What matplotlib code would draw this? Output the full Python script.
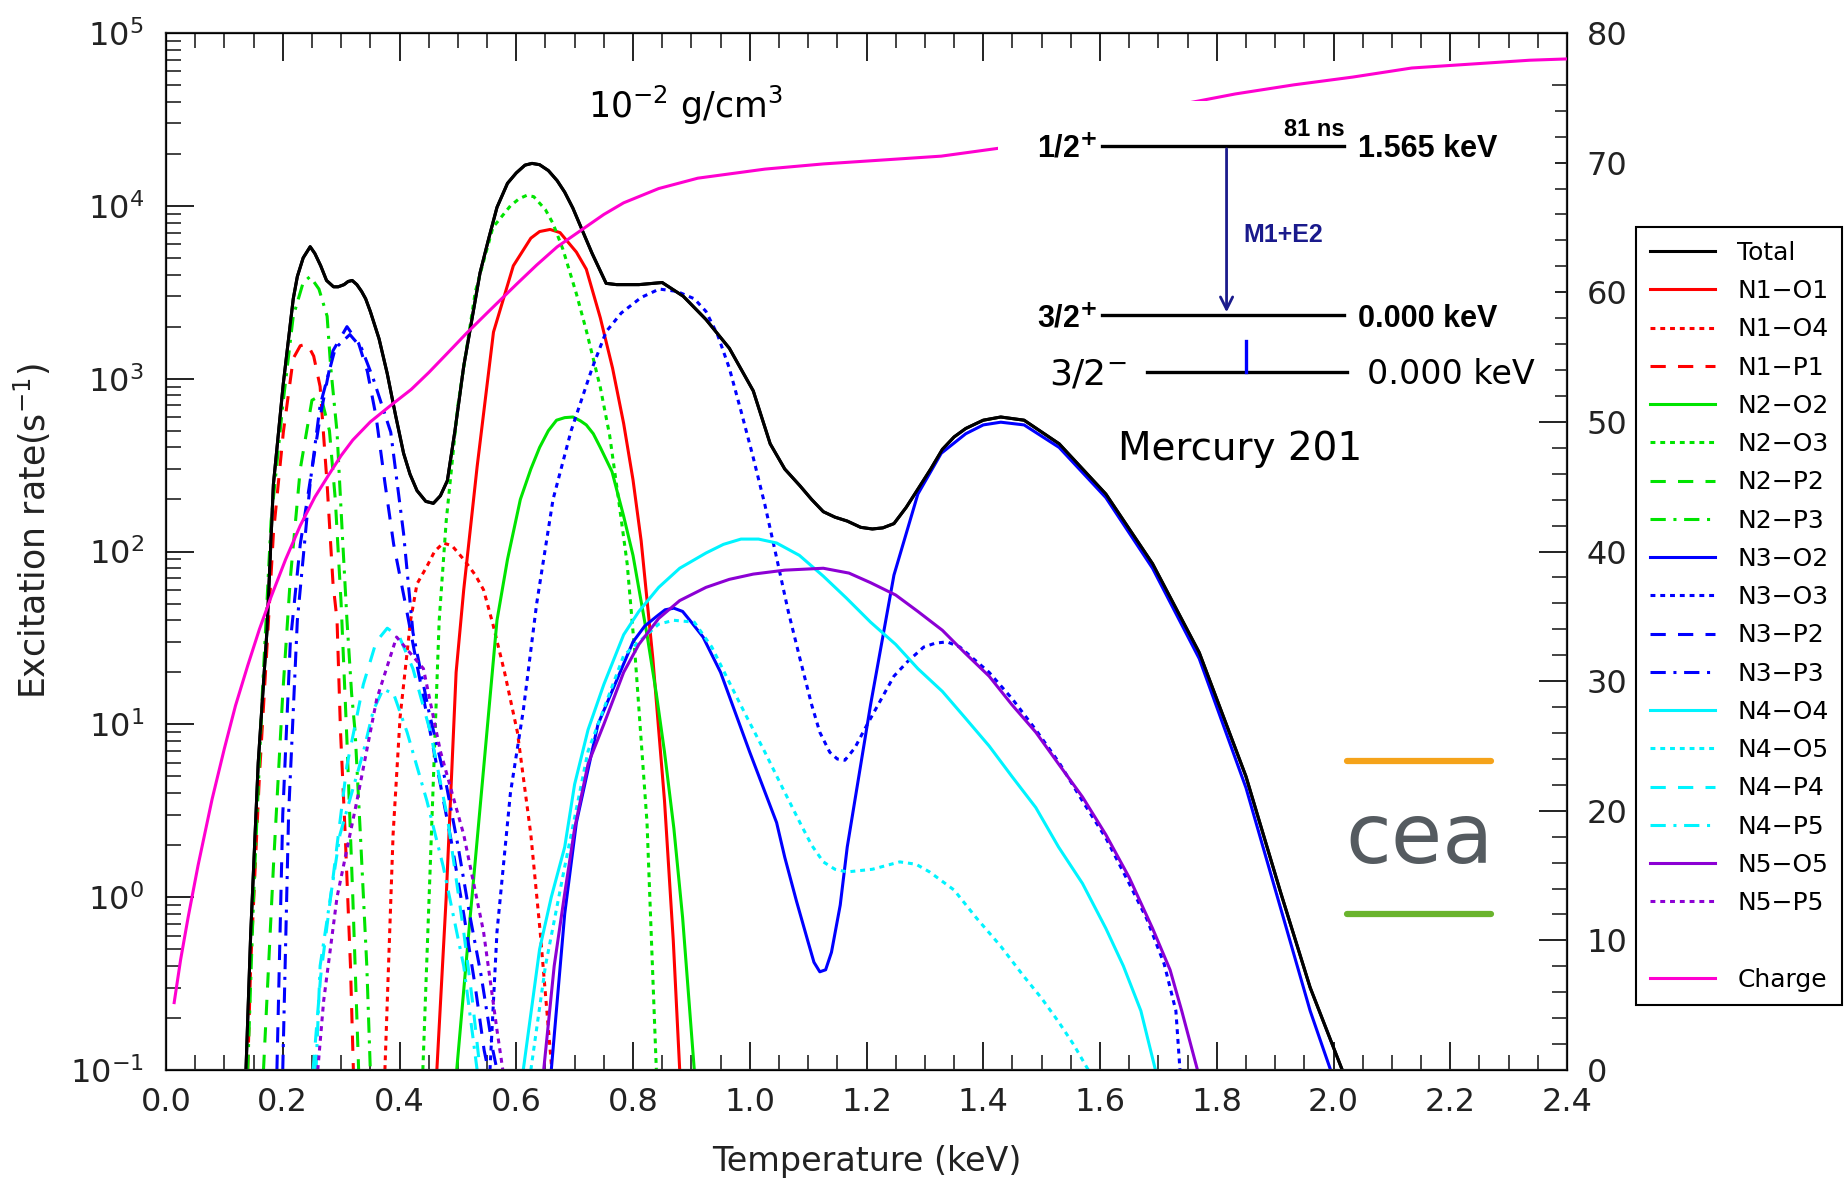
import matplotlib
matplotlib.use("Agg")
import matplotlib.pyplot as plt
from matplotlib.lines import Line2D
from matplotlib.patches import Rectangle
from matplotlib.ticker import MultipleLocator, LogLocator, FormatStrFormatter, NullFormatter

# ---- data (T in keV, rates in s^-1) ----
total_x = [0.137, 0.145, 0.158, 0.173, 0.184, 0.201, 0.218, 0.225, 0.235, 0.247, 0.255, 0.265,
           0.275, 0.287, 0.295, 0.305, 0.312, 0.319, 0.327, 0.335, 0.342, 0.35, 0.365, 0.379,
           0.393, 0.407, 0.418, 0.43, 0.445, 0.458, 0.47, 0.482, 0.495, 0.51, 0.525, 0.538,
           0.553, 0.567, 0.585, 0.6, 0.615, 0.627, 0.64, 0.655, 0.67, 0.683, 0.697, 0.711,
           0.73, 0.754, 0.772, 0.81, 0.85, 0.886, 0.925, 0.965, 1.006, 1.035, 1.06, 1.086,
           1.106, 1.126, 1.146, 1.167, 1.19, 1.21, 1.228, 1.247, 1.268, 1.29, 1.31, 1.33,
           1.35, 1.37, 1.4, 1.43, 1.47, 1.53, 1.61, 1.69, 1.77, 1.85, 1.91, 1.96, 2.015]
total_y = [0.1, 0.6, 6, 35, 245, 940, 2900, 3900, 5000, 5800, 5300, 4500, 3700, 3400, 3400,
           3500, 3650, 3700, 3500, 3200, 2900, 2450, 1700, 1070, 620, 370, 280, 225, 195, 190,
           210, 257, 500, 1180, 2300, 4100, 6500, 9800, 13500, 15500, 17200, 17600, 17300,
           16000, 14000, 12000, 9700, 7500, 5300, 3560, 3500, 3500, 3600, 3000, 2200, 1500,
           850, 420, 300, 240, 200, 170, 158, 150, 138, 135, 137, 145, 180, 235, 300, 390,
           460, 515, 575, 600, 575, 420, 215, 85, 26, 5, 1.05, 0.3, 0.1]

n1o1_x = [0.464, 0.48, 0.497, 0.51, 0.533, 0.561, 0.595, 0.625, 0.64, 0.658, 0.675, 0.703,
          0.72, 0.744, 0.765, 0.784, 0.8, 0.814, 0.834, 0.854, 0.869, 0.88]
n1o1_y = [0.1, 1, 20, 60, 310, 1860, 4500, 6500, 7100, 7300, 7000, 5400, 4300, 2250, 1150,
          550, 260, 115, 24, 3.6, 0.56, 0.1]

n1o4_x = [0.375, 0.389, 0.401, 0.419, 0.43, 0.447, 0.46, 0.475, 0.49, 0.51, 0.53, 0.544,
          0.56, 0.58, 0.602, 0.625, 0.641, 0.661]
n1o4_y = [0.1, 2.3, 11, 40, 65, 82, 100, 112, 108, 90, 73, 60, 38, 20, 9, 2.3, 0.63, 0.1]

n1p1_x = [0.14, 0.145, 0.16, 0.173, 0.184, 0.201, 0.218, 0.23, 0.242, 0.253, 0.264, 0.276,
          0.286, 0.293, 0.299, 0.307, 0.316, 0.321]
n1p1_y = [0.1, 0.4, 5, 28, 127, 490, 1310, 1550, 1590, 1350, 900, 245, 66, 40, 9, 2.3, 0.4, 0.1]

n2o2_x = [0.498, 0.52, 0.545, 0.567, 0.585, 0.607, 0.625, 0.64, 0.655, 0.669, 0.683, 0.697,
          0.71, 0.72, 0.732, 0.744, 0.764, 0.784, 0.8, 0.824, 0.84, 0.854, 0.87, 0.885, 0.905]
n2o2_y = [0.1, 0.7, 6, 40, 90, 200, 300, 400, 500, 575, 595, 600, 570, 540, 480, 400, 290,
          160, 95, 33, 15, 6.9, 2.5, 0.76, 0.1]

n2o3_x = [0.44, 0.455, 0.468, 0.48, 0.5, 0.53, 0.56, 0.59, 0.605, 0.618, 0.63, 0.65, 0.663,
          0.68, 0.703, 0.72, 0.744, 0.76, 0.774, 0.79, 0.804, 0.824, 0.84]
n2o3_y = [0.1, 2.5, 40, 150, 700, 3200, 7500, 10000, 11000, 11500, 11300, 9500, 7900, 5600,
          3100, 1900, 890, 470, 215, 85, 24, 2.7, 0.1]

n2p2_x = [0.167, 0.184, 0.2, 0.213, 0.23, 0.25, 0.265, 0.28, 0.29, 0.3, 0.31, 0.32, 0.33]
n2p2_y = [0.1, 1.5, 15, 70, 300, 750, 800, 500, 200, 50, 8, 1, 0.1]

n2p3_x = [0.14, 0.15, 0.165, 0.18, 0.2, 0.218, 0.235, 0.247, 0.262, 0.276, 0.282, 0.293,
          0.302, 0.31, 0.318, 0.324, 0.333, 0.344, 0.35]
n2p3_y = [0.1, 1, 15, 150, 700, 2300, 3600, 3900, 3300, 2300, 1180, 490, 127, 40, 15, 9,
          2.3, 0.4, 0.1]

n3o2_x = [0.66, 0.683, 0.703, 0.74, 0.8, 0.82, 0.84, 0.855, 0.87, 0.885, 0.9, 0.92, 0.95,
          1.0, 1.046, 1.06, 1.08, 1.1, 1.11, 1.12, 1.13, 1.14, 1.155, 1.167, 1.207, 1.247,
          1.288, 1.328, 1.37, 1.4, 1.43, 1.47, 1.53, 1.61, 1.69, 1.77, 1.85, 1.91, 1.96, 1.995]
n3o2_y = [0.1, 0.8, 2.7, 10, 30, 37, 42, 46, 47, 45, 39, 32, 20, 6.9, 2.7, 1.7, 0.95, 0.55,
          0.42, 0.37, 0.38, 0.48, 0.9, 1.95, 13, 73, 215, 370, 480, 540, 560, 540, 400, 205,
          80, 24, 4.3, 0.85, 0.22, 0.1]

n3o3_x = [0.555, 0.567, 0.59, 0.612, 0.635, 0.663, 0.694, 0.73, 0.754, 0.78, 0.814, 0.845,
          0.875, 0.905, 0.925, 0.945, 0.965, 0.985, 1.005, 1.026, 1.046, 1.066, 1.086, 1.106,
          1.12, 1.137, 1.15, 1.163, 1.18, 1.197, 1.22, 1.247, 1.27, 1.298, 1.318, 1.338,
          1.36, 1.41, 1.45, 1.49, 1.53, 1.57, 1.61, 1.65, 1.68, 1.71, 1.73, 1.737]
n3o3_y = [0.1, 0.63, 4, 12, 50, 200, 500, 1150, 1870, 2400, 2950, 3300, 3200, 2900, 2450,
          1790, 1150, 650, 360, 186, 92, 45, 24, 13, 9, 6.9, 6.3, 6.2, 7.3, 9.4, 13, 19, 23,
          28, 29.5, 30, 28, 20, 14, 9.3, 6, 3.6, 2.2, 1.2, 0.75, 0.41, 0.22, 0.1]

n3p2_x = [0.19, 0.2, 0.213, 0.23, 0.242, 0.264, 0.286, 0.31, 0.33, 0.345, 0.36, 0.375, 0.39,
          0.41, 0.43, 0.45, 0.47, 0.49, 0.51, 0.53, 0.545, 0.552]
n3p2_y = [0.1, 3, 30, 110, 200, 600, 1450, 2000, 1600, 1100, 600, 250, 110, 50, 22, 10, 4.5,
          2, 0.8, 0.3, 0.13, 0.1]

n3p3_x = [0.2, 0.21, 0.225, 0.247, 0.264, 0.29, 0.315, 0.335, 0.355, 0.385, 0.407, 0.423,
          0.45, 0.48, 0.5, 0.52, 0.54, 0.56, 0.567]
n3p3_y = [0.1, 3, 40, 250, 700, 1500, 1800, 1500, 1000, 490, 127, 34, 12, 4.5, 2, 0.8, 0.35,
          0.13, 0.1]

n4o4_x = [0.612, 0.64, 0.66, 0.683, 0.7, 0.723, 0.75, 0.784, 0.81, 0.844, 0.88, 0.925, 0.955,
          0.985, 1.015, 1.046, 1.085, 1.126, 1.165, 1.207, 1.25, 1.288, 1.33, 1.368, 1.41,
          1.449, 1.49, 1.529, 1.57, 1.61, 1.64, 1.67, 1.695]
n4o4_y = [0.1, 0.5, 1, 1.95, 4.5, 9.3, 17, 33, 45, 62, 80, 98, 110, 118, 118, 112, 95, 72,
          54, 39, 29, 21, 15.5, 11, 7.5, 5, 3.3, 1.95, 1.2, 0.66, 0.4, 0.22, 0.1]

n4o5_x = [0.625, 0.65, 0.683, 0.723, 0.784, 0.844, 0.87, 0.905, 0.935, 0.965, 0.995, 1.026,
          1.056, 1.086, 1.106, 1.126, 1.146, 1.167, 1.21, 1.257, 1.285, 1.308, 1.35, 1.388,
          1.43, 1.469, 1.5, 1.529, 1.555, 1.58]
n4o5_y = [0.1, 0.4, 1.5, 7, 25, 38, 40, 39, 28, 17.5, 11, 6.9, 4.3, 2.7, 2, 1.6, 1.45, 1.4,
          1.45, 1.6, 1.55, 1.4, 1.1, 0.76, 0.52, 0.35, 0.26, 0.19, 0.14, 0.1]

n4p4_x = [0.252, 0.265, 0.282, 0.31, 0.338, 0.36, 0.379, 0.4, 0.423, 0.453, 0.482, 0.51,
          0.525, 0.538]
n4p4_y = [0.1, 0.35, 1, 5.8, 17, 30, 36, 32, 21, 9, 2.9, 0.63, 0.25, 0.1]

n4p5_x = [0.257, 0.264, 0.298, 0.338, 0.355, 0.372, 0.39, 0.413, 0.447, 0.475, 0.51, 0.533]
n4p5_y = [0.1, 0.4, 2.3, 6.9, 12, 16, 15, 9, 3.6, 1.5, 0.4, 0.1]

n5o5_x = [0.647, 0.665, 0.683, 0.7, 0.723, 0.75, 0.784, 0.81, 0.844, 0.88, 0.925, 0.965,
          1.006, 1.06, 1.126, 1.17, 1.207, 1.25, 1.288, 1.33, 1.368, 1.41, 1.449, 1.49,
          1.529, 1.57, 1.61, 1.65, 1.69, 1.72, 1.74, 1.767]
n5o5_y = [0.1, 0.4, 1.05, 2.5, 5.9, 10, 20, 29, 41, 52, 62, 69, 74, 78, 80, 75, 66, 56, 45,
          35, 26, 19, 13, 9, 5.9, 3.8, 2.3, 1.3, 0.66, 0.38, 0.22, 0.1]

n5p5_x = [0.26, 0.27, 0.293, 0.327, 0.361, 0.395, 0.441, 0.47, 0.51, 0.544, 0.567, 0.577]
n5p5_y = [0.1, 0.25, 1, 3.6, 14, 32, 21, 7, 2.3, 0.63, 0.17, 0.1]

charge_x = [0.014, 0.025, 0.038, 0.055, 0.079, 0.1, 0.119, 0.14, 0.16, 0.18, 0.205, 0.23,
            0.255, 0.28, 0.3, 0.32, 0.35, 0.383, 0.42, 0.45, 0.48, 0.514, 0.55, 0.6, 0.635,
            0.67, 0.718, 0.75, 0.784, 0.844, 0.911, 1.026, 1.126, 1.227, 1.328, 1.425,
            1.751, 1.832, 1.932, 2.033, 2.134, 2.235, 2.336, 2.4]
charge_y = [5.2, 8.5, 11.8, 15.8, 20.9, 24.8, 28.1, 31.2, 34, 36.5, 39.4, 42, 44.2, 46, 47.4,
            48.6, 50, 51.2, 52.5, 53.8, 55.2, 56.8, 58.4, 60.6, 62.1, 63.5, 65, 66, 66.9, 68,
            68.8, 69.5, 69.9, 70.2, 70.5, 71.1, 74.6, 75.3, 76.0, 76.6, 77.3, 77.6, 77.9, 78.0]

RED, GREEN, BLUE, CYAN, PURPLE, PINK = "#ff0000", "#00e400", "#0000ff", "#00f4ff", "#8c00d4", "#ff00d0"
DOT = (0, (1.6, 1.6))
DASH = (0, (5, 4))
DASHDOT = (0, (5, 2.5, 1, 2.5))

curves = [
    ("Total", total_x, total_y, "black", "-"),
    ("N1\u2212O1", n1o1_x, n1o1_y, RED, "-"),
    ("N1\u2212O4", n1o4_x, n1o4_y, RED, DOT),
    ("N1\u2212P1", n1p1_x, n1p1_y, RED, DASH),
    ("N2\u2212O2", n2o2_x, n2o2_y, GREEN, "-"),
    ("N2\u2212O3", n2o3_x, n2o3_y, GREEN, DOT),
    ("N2\u2212P2", n2p2_x, n2p2_y, GREEN, DASH),
    ("N2\u2212P3", n2p3_x, n2p3_y, GREEN, DASHDOT),
    ("N3\u2212O2", n3o2_x, n3o2_y, BLUE, "-"),
    ("N3\u2212O3", n3o3_x, n3o3_y, BLUE, DOT),
    ("N3\u2212P2", n3p2_x, n3p2_y, BLUE, DASH),
    ("N3\u2212P3", n3p3_x, n3p3_y, BLUE, DASHDOT),
    ("N4\u2212O4", n4o4_x, n4o4_y, CYAN, "-"),
    ("N4\u2212O5", n4o5_x, n4o5_y, CYAN, DOT),
    ("N4\u2212P4", n4p4_x, n4p4_y, CYAN, DASH),
    ("N4\u2212P5", n4p5_x, n4p5_y, CYAN, DASHDOT),
    ("N5\u2212O5", n5o5_x, n5o5_y, PURPLE, "-"),
    ("N5\u2212P5", n5p5_x, n5p5_y, PURPLE, DOT),
]

plt.rcParams['font.family'] = ['DejaVu Sans']
LW = 2.2

fig = plt.figure(figsize=(18.44, 11.85), dpi=100)
ax = fig.add_axes([166/1844, 115/1185, 1401/1844, 1037/1185])

handles = []
for lab, xs, ys, col, ls in curves:
    h, = ax.plot(xs, ys, color=col, ls=ls, lw=LW, label=lab)
    handles.append(h)
# total drawn again on top of the components
ax.plot(total_x, total_y, color="black", lw=LW)

ax.set_yscale('log')
ax.set_xlim(0, 2.4)
ax.set_ylim(0.1, 1e5)
ax.xaxis.set_major_locator(MultipleLocator(0.2))
ax.xaxis.set_minor_locator(MultipleLocator(0.05))
ax.xaxis.set_major_formatter(FormatStrFormatter('%.1f'))
ax.yaxis.set_major_locator(LogLocator(base=10, numticks=10))
ax.yaxis.set_minor_locator(LogLocator(base=10, subs=range(2, 10), numticks=100))
ax.yaxis.set_minor_formatter(NullFormatter())
ax.tick_params(which='both', direction='in', top=True, right=False, labelsize=23, colors='#222222')
ax.tick_params(which='major', length=20, width=1.4)
ax.tick_params(which='minor', length=11, width=1.2)
ax.tick_params(axis='x', pad=12)
ax.tick_params(axis='y', pad=16)
for s in ax.spines.values():
    s.set_linewidth(1.6)
    s.set_color('#222222')

ax.set_xlabel("Temperature (keV)", fontsize=24, labelpad=20, color='#222222')
ax.set_ylabel("Excitation rate(s$^{-1}$)", fontsize=25, labelpad=12, color='#222222', y=0.52)

ax2 = ax.twinx()
hc, = ax2.plot(charge_x, charge_y, color=PINK, lw=LW, label="Charge")
ax2.set_ylim(0, 80)
ax2.yaxis.set_major_locator(MultipleLocator(10))
ax2.yaxis.set_minor_locator(MultipleLocator(2))
ax2.tick_params(which='both', direction='in', labelsize=23, colors='#222222', pad=14)
ax2.tick_params(which='major', length=20, width=1.4)
ax2.tick_params(which='minor', length=11, width=1.2)

# white box of the level scheme inset
ax2.add_patch(Rectangle((0.5936, 0.646), 0.398, 0.288, transform=ax2.transAxes,
                        facecolor='white', edgecolor='none', zorder=5))

T = ax2.transAxes
bold = dict(family='Liberation Sans', fontweight='bold', transform=T, zorder=6)
ax2.plot([0.668, 0.841], [0.891, 0.891], color='black', lw=2.4, transform=T, zorder=6)
ax2.plot([0.668, 0.841], [0.728, 0.728], color='black', lw=2.4, transform=T, zorder=6)
ax2.plot([0.700, 0.843], [0.673, 0.673], color='black', lw=2.4, transform=T, zorder=6)
ax2.plot([0.771, 0.771], [0.673, 0.703], color=BLUE, lw=2.4, transform=T, zorder=6)
ax2.annotate("", xy=(0.757, 0.728), xytext=(0.757, 0.891), xycoords=T, textcoords=T,
             arrowprops=dict(arrowstyle='->', color='#1a1a8c', lw=2, mutation_scale=22), zorder=6)
ax2.text(0.665, 0.888, "1/2$^{\\mathbf{+}}$", ha='right', va='center', fontsize=22, **bold)
ax2.text(0.841, 0.896, "81 ns", ha='right', va='bottom', fontsize=17, **bold)
ax2.text(0.851, 0.888, "1.565 keV", ha='left', va='center', fontsize=22, **bold)
ax2.text(0.769, 0.805, "M1+E2", ha='left', va='center', fontsize=18, color='#1a1a8c', **bold)
ax2.text(0.665, 0.724, "3/2$^{\\mathbf{+}}$", ha='right', va='center', fontsize=22, **bold)
ax2.text(0.851, 0.724, "0.000 keV", ha='left', va='center', fontsize=22, **bold)
ax2.text(0.686, 0.671, "3/2$^{-}$", ha='right', va='center', fontsize=26, transform=T, zorder=6)
ax2.text(0.857, 0.671, "0.000 keV", ha='left', va='center', fontsize=24, transform=T, zorder=6)
ax2.text(0.767, 0.599, "Mercury 201", ha='center', va='center', fontsize=28, transform=T, zorder=6)
ax2.text(0.371, 0.93, "10$^{-2}$ g/cm$^{3}$", ha='center', va='center', fontsize=25, transform=T)

# cea logo
ax2.plot([0.843, 0.946], [0.298, 0.298], color='#f5a31a', lw=4.5, transform=T, solid_capstyle='round')
ax2.plot([0.843, 0.946], [0.150, 0.150], color='#6ab42d', lw=4.5, transform=T, solid_capstyle='round')
ax2.text(0.895, 0.222, "cea", ha='center', va='center', fontsize=60, color='#555b60', transform=T)

blank = Line2D([], [], color='none')
leg = fig.legend(handles + [blank, hc], [h.get_label() for h in handles] + ["", "Charge"],
                 loc='upper left', bbox_to_anchor=(1636/1844, 1 - 227/1185), borderaxespad=0,
                 fontsize=18, labelspacing=0.57, handlelength=2.6, handletextpad=0.9,
                 borderpad=0.55, fancybox=False, framealpha=1, edgecolor='black')
leg.get_frame().set_linewidth(1.5)

fig.savefig("out.png", dpi=100)
